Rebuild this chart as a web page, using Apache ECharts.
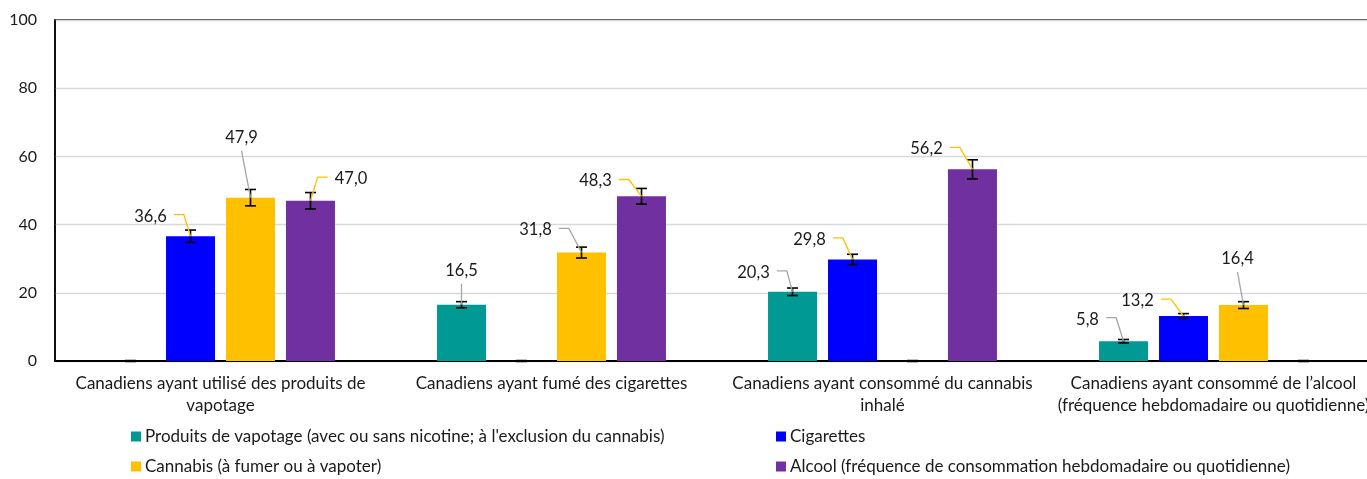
<!DOCTYPE html>
<html>
<head>
<meta charset="utf-8">
<script src="https://cdn.jsdelivr.net/npm/echarts@6/dist/echarts.min.js"></script>
<style>
html,body{margin:0;padding:0;background:#fff;}
#chart{width:1367px;height:479px;}
</style>
</head>
<body>
<div id="chart"></div>
<script>
// ---- data ----
const categories = [
  "Canadiens ayant utilisé des produits de\nvapotage",
  "Canadiens ayant fumé des cigarettes",
  "Canadiens ayant consommé du cannabis\ninhalé",
  "Canadiens ayant consommé de l’alcool\n(fréquence hebdomadaire ou quotidienne)"
];
const seriesNames = [
  "Produits de vapotage (avec ou sans nicotine; à l'exclusion du cannabis)",
  "Cigarettes",
  "Cannabis (à fumer ou à vapoter)",
  "Alcool (fréquence de consommation hebdomadaire ou quotidienne)"
];
const vapeValues     = [0, 16.5, 20.3, 5.8];
const vapeErrors     = [0, 0.9, 1.1, 0.5];
const cigValues      = [36.6, 0, 29.8, 13.2];
const cigErrors      = [1.8, 0, 1.5, 0.7];
const cannabisValues = [47.9, 31.8, 0, 16.4];
const cannabisErrors = [2.4, 1.6, 0, 1.0];
const alcoholValues  = [47.0, 48.3, 56.2, 0];
const alcoholErrors  = [2.4, 2.3, 2.8, 0];
const yMin = 0, yMax = 100, yInterval = 20;

// ---- styles / layout ----
const colors = ['#009994', '#0000ff', '#ffc000', '#7030a0'];
const FONT = 'Lato';
const leaderColors = { gray: '#a6a6a6', gold: '#ffc000' };
// label placement relative to the bar top: [dx, dy, leaderColor, kind]
const labelPlacement = [
  [null, [0, -34, 'gray', 'up'], [-39, -19.5, 'gray', 'left'], [-36, -22, 'gray', 'left']],
  [[-40, -20, 'gold', 'left'], null, [-43, -20, 'gold', 'left'], [-46, -15.3, 'gold', 'left']],
  [[-9, -60, 'gray', 'up'], [-46, -22.6, 'gray', 'left'], null, [-6, -46, 'gray', 'up']],
  [[40.5, -21.7, 'gold', 'right'], [-46, -15.3, 'gold', 'left'], [-46, -20.4, 'gold', 'left'], null]
];
const allValues = [vapeValues, cigValues, cannabisValues, alcoholValues];
const allErrors = [vapeErrors, cigErrors, cannabisErrors, alcoholErrors];

function makeRender(si) {
  return function (params, api) {
    const cat = api.value(0), val = api.value(1), err = api.value(2);
    const band = api.size([1, 0])[0];
    const spacing = band * 60 / 331;
    const c = api.coord([cat, val]);
    const x = c[0] + (si - 1.5) * spacing;
    const y = c[1];
    const yT = api.coord([cat, val + err])[1];
    const yB = api.coord([cat, val - err])[1];
    const cap = 5.5;
    const es = { stroke: '#000', lineWidth: 1.6 };
    const children = [];
    if (err > 0) {
      children.push({ type: 'line', shape: { x1: x, y1: yT, x2: x, y2: yB }, style: es });
      children.push({ type: 'line', shape: { x1: x - cap, y1: yT, x2: x + cap, y2: yT }, style: es });
      children.push({ type: 'line', shape: { x1: x - cap, y1: yB, x2: x + cap, y2: yB }, style: es });
    } else {
      children.push({ type: 'line', shape: { x1: x - cap, y1: y, x2: x + cap, y2: y }, style: { stroke: '#000', lineWidth: 2.5 } });
    }
    const pl = labelPlacement[si][cat];
    if (val > 0 && pl) {
      const txt = val.toFixed(1).replace('.', ',');
      const lx = x + pl[0], ly = y + pl[1];
      const hw = ((txt.length - 1) * 9.4 + 4.5) / 2;
      const lc = leaderColors[pl[2]];
      let pts;
      if (pl[3] === 'left') {
        pts = [[lx + hw + 7, ly - 1.5], [lx + hw + 17, ly - 1.5], [x, y]];
      } else if (pl[3] === 'right') {
        pts = [[lx - hw - 7, ly - 2], [lx - hw - 17, ly - 2], [x, y]];
      } else {
        pts = [[lx, ly + 13], [x, y]];
      }
      children.push({ type: 'polyline', shape: { points: pts }, style: { stroke: lc, lineWidth: 1.3, fill: null } });
      children.push({ type: 'text', style: { text: txt, x: lx, y: ly, align: 'center', verticalAlign: 'middle', fontSize: 16.5, fontFamily: FONT, fill: '#1a1a1a' } });
    }
    return { type: 'group', children: children };
  };
}

const series = [];
seriesNames.forEach(function (name, i) {
  series.push({
    name: name, type: 'bar', data: allValues[i],
    barWidth: 49, barGap: '22.4%', barCategoryGap: '30.7%',
    itemStyle: { color: colors[i] }, z: 2, silent: true
  });
});
seriesNames.forEach(function (name, i) {
  series.push({
    name: 'err' + i, type: 'custom', z: 5, silent: true,
    renderItem: makeRender(i),
    encode: { x: 0, y: 1 },
    data: allValues[i].map(function (v, k) { return [k, v, allErrors[i][k]]; })
  });
});

function legendAt(i, left, top) {
  return {
    data: [seriesNames[i]], left: left, top: top, icon: 'rect',
    itemWidth: 10, itemHeight: 10, padding: 0, selectedMode: false,
    textStyle: { fontFamily: FONT, fontSize: 17, color: '#1a1a1a', padding: [0, 0, 0, -1] }
  };
}

const chart = echarts.init(document.getElementById('chart'), null, { renderer: 'canvas' });
chart.setOption({
  animation: false,
  backgroundColor: '#fff',
  textStyle: { fontFamily: FONT },
  grid: { left: 55, top: 20, width: 1324, bottom: 118, containLabel: false, outerBoundsMode: 'none', show: true, borderColor: '#000', borderWidth: 1.5, backgroundColor: 'transparent' },
  legend: [
    legendAt(0, 131, 428),
    legendAt(1, 776, 428),
    legendAt(2, 131, 458),
    legendAt(3, 776, 458)
  ],
  xAxis: {
    type: 'category', data: categories,
    axisLine: { show: true, lineStyle: { color: '#000', width: 2 } },
    axisTick: { show: false },
    axisLabel: { interval: 0, color: '#1a1a1a', fontFamily: FONT, fontSize: 17, lineHeight: 22, margin: 12 }
  },
  yAxis: {
    type: 'value', min: yMin, max: yMax, interval: yInterval,
    axisLine: { show: true, lineStyle: { color: '#000', width: 1.5 } },
    axisTick: { show: false },
    splitLine: { lineStyle: { color: '#d9d9d9', width: 1.3 } },
    axisLabel: { color: '#1a1a1a', fontFamily: FONT, fontSize: 16, margin: 18 }
  },
  series: series
});
</script>
</body>
</html>
